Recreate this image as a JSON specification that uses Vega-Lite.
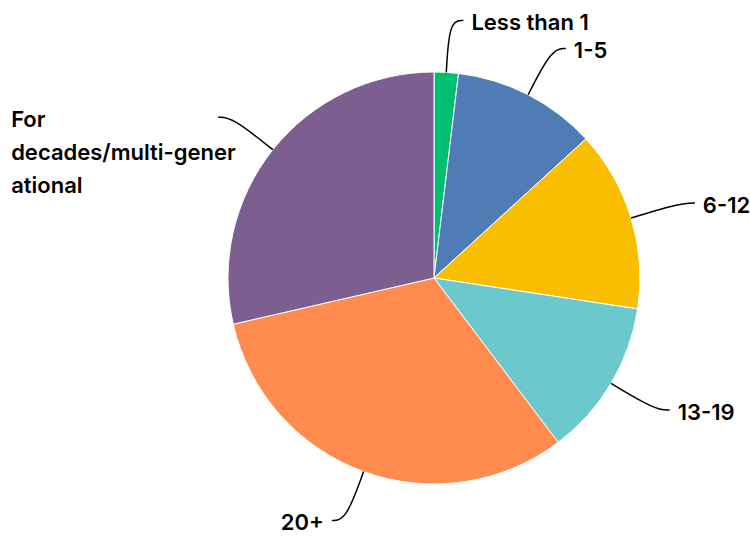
{
  "$schema": "https://vega.github.io/schema/vega-lite/v6.json",
  "width": 632,
  "height": 520,
  "padding": {"left": 118, "top": 18, "right": 0, "bottom": 0},
  "autosize": {"type": "none"},
  "background": "white",
  "config": {"view": {"stroke": null}},
  "data": {
    "values": [
      {"cat": "Less than 1", "pct": 1.9},
      {"cat": "1-5", "pct": 11.3},
      {"cat": "6-12", "pct": 14.2},
      {"cat": "13-19", "pct": 12.3},
      {"cat": "20+", "pct": 31.7},
      {"cat": "For decades/multi-generational", "pct": 28.6}
    ]
  },
  "transform": [
    {"stack": "pct", "groupby": [], "as": ["s0", "s1"]},
    {"calculate": "PI * (datum.s0 + datum.s1) / 100", "as": "m"},
    {"calculate": "sin(datum.m) >= 0 ? 1 : -1", "as": "side"},
    {"calculate": "length(datum.cat) > 20", "as": "multi"},
    {"calculate": "206 * sin(datum.m)", "as": "ax"},
    {"calculate": "206 * cos(datum.m)", "as": "ay"},
    {"calculate": "258 * sin(datum.m)", "as": "kx"},
    {"calculate": "258 * cos(datum.m)", "as": "ky"},
    {"calculate": "datum.kx + datum.side * 14", "as": "ex"},
    {"calculate": "datum.ky", "as": "ey"},
    {"calculate": "datum.multi ? datum.ex - 207 : datum.ex + datum.side * 8", "as": "lx"},
    {"calculate": "datum.ey - 3", "as": "ly"},
    {"calculate": "datum.multi ? ['For', 'decades/multi-gener', 'ational'] : datum.cat", "as": "lines"}
  ],
  "layer": [
    {
      "mark": {"type": "arc", "outerRadius": 206, "stroke": "white", "strokeWidth": 1},
      "encoding": {
        "theta": {"field": "s0", "type": "quantitative", "scale": {"domain": [0, 100], "range": [0, 6.283185307179586]}},
        "theta2": {"field": "s1"},
        "color": {
          "field": "cat",
          "type": "nominal",
          "scale": {
            "domain": ["Less than 1", "1-5", "6-12", "13-19", "20+", "For decades/multi-generational"],
            "range": ["#00BF6F", "#507CB6", "#F9BE00", "#6BC8CD", "#FF8B4F", "#7D5E90"]
          },
          "legend": null
        }
      }
    },
    {
      "transform": [
        {"calculate": "[datum.ax, datum.kx, datum.ex]", "as": "xs"},
        {"calculate": "[datum.ay, datum.ky, datum.ey]", "as": "ys"},
        {"calculate": "[0, 1, 2]", "as": "ord"},
        {"flatten": ["xs", "ys", "ord"]}
      ],
      "mark": {"type": "line", "interpolate": "basis", "color": "black", "strokeWidth": 1.5},
      "encoding": {
        "x": {"field": "xs", "type": "quantitative", "scale": {"domain": [-316, 316], "nice": false, "zero": false}, "axis": null},
        "y": {"field": "ys", "type": "quantitative", "scale": {"domain": [-260, 260], "nice": false, "zero": false}, "axis": null},
        "detail": {"field": "cat"},
        "order": {"field": "ord"}
      }
    },
    {
      "mark": {
        "type": "text",
        "font": "Inter",
        "fontSize": 22,
        "fontWeight": 600,
        "color": "black",
        "baseline": "middle",
        "lineHeight": 33,
        "align": {"expr": "datum.side > 0 || datum.multi ? 'left' : 'right'"}
      },
      "encoding": {
        "x": {"field": "lx", "type": "quantitative", "scale": {"domain": [-316, 316], "nice": false, "zero": false}, "axis": null},
        "y": {"field": "ly", "type": "quantitative", "scale": {"domain": [-260, 260], "nice": false, "zero": false}, "axis": null},
        "text": {"field": "lines"}
      }
    }
  ]
}
